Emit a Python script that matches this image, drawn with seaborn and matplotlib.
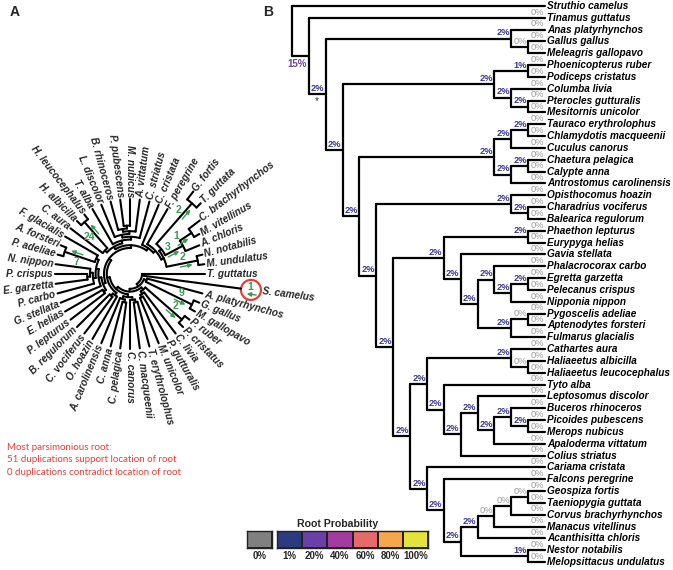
import math
import numpy as np
import pandas as pd
import matplotlib
matplotlib.use("Agg")
import matplotlib.pyplot as plt
from matplotlib.colors import ListedColormap
from matplotlib.patches import Circle
import seaborn as sns

# ---------------- data ----------------
# Panel B tree: internal node = (root probability %, child, child), leaf = species name
GALLOANSERAE = (2, "Anas platyrhynchos", (0, "Gallus gallus", "Meleagris gallopavo"))
COLUMBAVES = (2, (1, "Phoenicopterus ruber", "Podiceps cristatus"),
              (2, "Columba livia", (2, "Pterocles gutturalis", "Mesitornis unicolor")))
OTIDAE_STRISORES = (2, (2, (2, "Tauraco erythrolophus", "Chlamydotis macqueenii"), "Cuculus canorus"),
                    (2, (2, "Chaetura pelagica", "Calypte anna"), "Antrostomus carolinensis"))
GRUIFORMES = (2, "Opisthocomus hoazin", (2, "Charadrius vociferus", "Balearica regulorum"))
AEQUORNITHES = (2, (2, "Phaethon lepturus", "Eurypyga helias"),
                (2, "Gavia stellata",
                 (2, (2, "Phalacrocorax carbo",
                      (2, (2, "Egretta garzetta", "Pelecanus crispus"), "Nipponia nippon")),
                  (2, (0, "Pygoscelis adeliae", "Aptenodytes forsteri"), "Fulmarus glacialis"))))
AFROAVES = (2, (2, "Cathartes aura", (0, "Haliaeetus albicilla", "Haliaeetus leucocephalus")),
            (2, "Tyto alba",
             (2, (2, "Leptosomus discolor",
                  (2, (2, "Buceros rhinoceros", (2, "Picoides pubescens", "Merops nubicus")),
                   "Apaloderma vittatum")),
              "Colius striatus")))
PASSERES = (2, (0, (0, (0, "Geospiza fortis", "Taeniopygia guttata"), "Corvus brachyrhynchos"),
                "Manacus vitellinus"), "Acanthisitta chloris")
AUSTRALAVES = (2, "Cariama cristata",
               (2, "Falcons peregrine",
                (2, PASSERES, (1, "Nestor notabilis", "Melopsittacus undulatus"))))
NEOAVES = (2, COLUMBAVES, (2, OTIDAE_STRISORES, (2, GRUIFORMES, (2, AEQUORNITHES, (2, AFROAVES, AUSTRALAVES)))))
TREE_B = (None, "Struthio camelus", (15, "Tinamus guttatus", (2, GALLOANSERAE, NEOAVES)))
NO_LABEL = ["Struthio camelus"]

PROB_LEVELS = ["0%", "1%", "20%", "40%", "60%", "80%", "100%"]
PROB_COLORS = ["#808080", "#2c3a7f", "#6a40a6", "#a33ca2", "#e76a6b", "#f6a64b", "#e3e33c"]

# Panel A: gene-tree variant of the passerine clade, duplication counts on branches
PASSERES_A = (None, (None, "Geospiza fortis", "Taeniopygia guttata"),
              (None, (None, "Corvus brachyrhynchos", "Manacus vitellinus"), "Acanthisitta chloris"))
DUP_CLADES = [
    ["Haliaeetus albicilla", "Haliaeetus leucocephalus"],
    ["Pygoscelis adeliae", "Aptenodytes forsteri"],
    ["Geospiza fortis", "Taeniopygia guttata"],
    ["Corvus brachyrhynchos", "Manacus vitellinus"],
    ["Corvus brachyrhynchos", "Manacus vitellinus", "Acanthisitta chloris"],
    ["Nestor notabilis", "Melopsittacus undulatus"],
    ["Gallus gallus", "Meleagris gallopavo"],
    ["Phoenicopterus ruber", "Podiceps cristatus"],
    ["Struthio camelus"],
]
DUP_COUNTS = [24, 7, 2, 1, 3, 2, 9, 2, 1]
ROOT_NOTE = ["Most parsimonious root:",
             "51 duplications support location of root",
             "0 duplications contradict location of root"]

# ---------------- helpers ----------------
def leaves(n):
    if isinstance(n, str):
        return [n]
    out = []
    for k in n[1:]:
        out += leaves(k)
    return out


def height(n):
    if isinstance(n, str):
        return 0
    return 1 + max(height(k) for k in n[1:])


def swap(node, old, new):
    if node is old:
        return new
    if isinstance(node, str):
        return node
    return (node[0],) + tuple(swap(k, old, new) for k in node[1:])


TREE_A = (None, "Tinamus guttatus", "Struthio camelus", swap(TREE_B[2][2], PASSERES, PASSERES_A))

# ---------------- style ----------------
sns.set_theme(style="white")
plt.rcParams["font.family"] = ["Liberation Sans", "DejaVu Sans"]
BLUE = "#3b3a8e"
PURPLE = "#6b42a2"
GRAY = "#9c9c9c"
GREEN = "#3a9a52"
RED = "#e3403a"

fig = plt.figure(figsize=(6.73, 5.70), dpi=100)


def add_seg(rows, xs, ys):
    sid = rows[-1][0] + 1 if rows else 0
    for x, y in zip(xs, ys):
        rows.append((sid, x, y))


# ================= panel B =================
axB = fig.add_axes([280 / 673, 0, 393 / 673, 1])
H_B = height(TREE_B)
order_b = leaves(TREE_B)
PX_LVL = (545 - 292) / H_B
PX_LEAF = (562 - 6) / (len(order_b) - 1)

seg_rows = []
lab_rows = []
node_xy = {}


def place_b(node, is_root=False):
    if isinstance(node, str):
        return float(H_B), float(order_b.index(node))
    kids = node[1:]
    x = H_B - height(node)
    pts = [place_b(k) for k in kids]
    y0, y1 = pts[0][1], pts[-1][1]
    add_seg(seg_rows, [x, x], [y0, y1])
    for k, (cx, cy) in zip(kids, pts):
        add_seg(seg_rows, [x, cx], [cy, cy])
        if isinstance(k, str):
            p = None if k in NO_LABEL else 0
        else:
            p = k[0]
            node_xy[id(k)] = (cx, cy)
        if p is not None:
            lab_rows.append((cx, cy, p, is_root))
    return x, (y0 + y1) / 2


place_b(TREE_B, is_root=True)
df_b = pd.DataFrame(seg_rows, columns=["seg", "x", "y"])
sns.lineplot(data=df_b, x="x", y="y", units="seg", estimator=None, sort=False,
             color="black", linewidth=1.6, ax=axB)

for cx, cy, p, below in lab_rows:
    if p == 0:
        col, wt = GRAY, "normal"
    elif p >= 10:
        col, wt = PURPLE, "bold"
    else:
        col, wt = BLUE, "bold"
    if below:
        axB.text(cx - 0.15, cy + 0.25, f"{p}%", ha="right", va="top", fontsize=7,
                 color=col, fontweight=wt)
    else:
        axB.text(cx - 0.07, cy - 0.1, f"{p}%", ha="right", va="bottom", fontsize=6.7,
                 color=col, fontweight=wt)

for i, name in enumerate(order_b):
    axB.text(H_B + 2 / PX_LVL, i, name, ha="left", va="center", fontsize=7.2,
             fontweight="bold", fontstyle="italic", color="black")

n2 = TREE_B[2][2]
axB.text(1.45, node_xy[id(n2)][1] + 0.55, "*", ha="center", va="center", fontsize=7, color="#333333")

x0 = -(292 - 280) / PX_LVL
axB.set_xlim(x0, x0 + 393 / PX_LVL)
axB.set_ylim((570 - 6) / PX_LEAF, -6 / PX_LEAF)
axB.axis("off")

# colour key: grey "0%" box set slightly apart from the coloured boxes
key_parts = [(PROB_LEVELS[:1], PROB_COLORS[:1], 247, 272),
             (PROB_LEVELS[1:], PROB_COLORS[1:], 277, 428)]
for labs, cols, xa, xb in key_parts:
    axC = fig.add_axes([xa / 673, 1 - 548 / 570, (xb - xa) / 673, 17 / 570])
    sns.heatmap(np.arange(len(labs))[None, :], cmap=ListedColormap(cols),
                vmin=-0.5, vmax=len(labs) - 0.5, cbar=False, linewidths=1.2,
                linecolor="#222222", xticklabels=labs, yticklabels=False, ax=axC)
    axC.tick_params(axis="x", length=0, pad=2.5, labelsize=7)
    for t in axC.get_xticklabels():
        t.set_fontweight("bold")
        t.set_rotation(0)
    axC.set_xlabel("")
    axC.set_ylabel("")
    for s in axC.spines.values():
        s.set_visible(True)
        s.set_color("#222222")
        s.set_linewidth(1.0)
fig.text(337.5 / 673, 1 - 524 / 570, "Root Probability", ha="center", va="center",
         fontsize=7.6, fontweight="bold")

# ================= panel A =================
axA = fig.add_axes([0, 0, 280 / 673, 1])
CX, CY = 130, 274
R_TIP = 75
TIP_R = {"Struthio camelus": 112, "Geospiza fortis": 104, "Taeniopygia guttata": 100,
         "Corvus brachyrhynchos": 88, "Manacus vitellinus": 80}
order_a = leaves(TREE_A)
ang = {n: -7.5 * i for i, n in enumerate(order_a)}
dup_keys = [frozenset(c) for c in DUP_CLADES]


def pol(r, a):
    t = math.radians(a)
    return CX + r * math.cos(t), CY - r * math.sin(t)


seg_a = []
node_a = {}


def place_a(node, depth):
    if isinstance(node, str):
        r = TIP_R.get(node, R_TIP)
        node_a[frozenset([node])] = (r, ang[node])
        return r, ang[node]
    key = frozenset(leaves(node))
    kids = [place_a(k, depth + 1) for k in node[1:]]
    if key in dup_keys and len(key) == 2:
        r = min(k[0] for k in kids) - 6
    elif key in dup_keys:
        r = 60
    else:
        r = 12 + 2.8 * depth
    a0, a1 = kids[0][1], kids[-1][1]
    n = max(2, int(abs(a1 - a0) / 2) + 2)
    arc = [pol(r, a) for a in np.linspace(a0, a1, n)]
    add_seg(seg_a, [p[0] for p in arc], [p[1] for p in arc])
    for cr, ca in kids:
        p0, p1 = pol(r, ca), pol(cr, ca)
        add_seg(seg_a, [p0[0], p1[0]], [p0[1], p1[1]])
    node_a[key] = (r, (a0 + a1) / 2)
    return r, (a0 + a1) / 2


place_a(TREE_A, 0)
df_a = pd.DataFrame(seg_a, columns=["seg", "x", "y"])
sns.lineplot(data=df_a, x="x", y="y", units="seg", estimator=None, sort=False,
             color="black", linewidth=1.5, ax=axA)

for name in order_a:
    r, a = node_a[frozenset([name])]
    g, sp = name.split()[:2]
    short = f"{g[0]}. {sp}"
    rr = r + (22 if name == "Struthio camelus" else 2)
    x, y = pol(rr, a)
    an = ((a + 270) % 360) - 270
    if an >= -90:
        axA.text(x, y, short, rotation=an, rotation_mode="anchor", ha="left", va="center",
                 fontsize=7.2, fontweight="bold", fontstyle="italic")
    else:
        axA.text(x, y, short, rotation=an + 180, rotation_mode="anchor", ha="right", va="center",
                 fontsize=7.2, fontweight="bold", fontstyle="italic")


def shift(p, a, d):
    t = math.radians(a + 90)
    return p[0] + d * math.cos(t), p[1] - d * math.sin(t)


for key, cnt in zip(dup_keys, DUP_COUNTS):
    r, a = node_a[key]
    if len(key) == 1:
        cx, cy = pol(r + 10, a)
        axA.add_patch(Circle((cx, cy), 10, fill=False, edgecolor=RED, lw=1.6))
        axA.text(cx - 1, cy - 3, str(cnt), ha="center", va="center", fontsize=7.5,
                 color=GREEN, fontweight="bold")
        axA.annotate("", xy=(cx - 7, cy + 3.5), xytext=(cx + 8, cy + 5.5),
                     arrowprops=dict(arrowstyle="-|>", color=GREEN, lw=1.0, mutation_scale=6))
        continue
    p_from = shift(pol(r - 21, a), a, -3)
    p_to = shift(pol(r - 3, a), a, -3)
    axA.annotate("", xy=p_to, xytext=p_from,
                 arrowprops=dict(arrowstyle="-|>", color=GREEN, lw=1.0, mutation_scale=6))
    mx, my = shift(pol(r - 14, a), a, 6)
    axA.text(mx, my, str(cnt), ha="center", va="center",
             fontsize=7.5, color=GREEN, fontweight="bold")

for i, line in enumerate(ROOT_NOTE):
    axA.text(7, 447 + 12.7 * i, line, ha="left", va="center", fontsize=7.0, color=RED,
             family=["Lato", "DejaVu Sans"])

axA.text(15, 12, "A", ha="center", va="center", fontsize=10, fontweight="bold")
axA.text(268, 12, "B", ha="center", va="center", fontsize=10, fontweight="bold")
axA.set_xlim(0, 280)
axA.set_ylim(570, 0)
axA.axis("off")

fig.savefig("out.png", dpi=100)
